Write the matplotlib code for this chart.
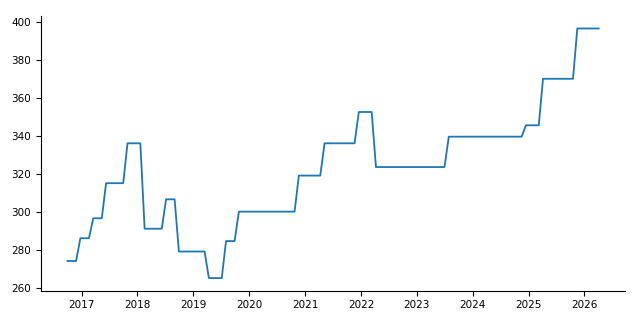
import numpy as np
import pandas as pd
import matplotlib
matplotlib.use("Agg")
import matplotlib.pyplot as plt
import matplotlib.dates as mdates

# values: each level and how many 4-weekly points it holds
levels = [274, 286, 296.5, 315, 336, 291, 306.5, 279, 265, 284.5,
          300, 319, 336, 352.5, 323.5, 339.5, 345.5, 370, 396.5]
counts = [3, 3, 3, 5, 4, 5, 3, 7, 4, 3,
          14, 6, 8, 4, 17, 18, 4, 8, 6]
start_date = "2016-10-01"

values = np.repeat(levels, counts)
dates = pd.date_range(start_date, periods=len(values), freq="28D")

fig, ax = plt.subplots(figsize=(6.4, 3.2), dpi=100)
fig.subplots_adjust(left=0.064, right=0.977, top=0.95, bottom=0.092)

ax.plot(dates, values, color="#1f77b4", linewidth=1.3)

ax.xaxis.set_major_locator(mdates.YearLocator(1))
ax.xaxis.set_major_formatter(mdates.DateFormatter("%Y"))
ax.set_yticks(range(260, 401, 20))
ax.tick_params(labelsize=7.5)

ax.spines["top"].set_visible(False)
ax.spines["right"].set_visible(False)

fig.savefig("out.png", dpi=100)
